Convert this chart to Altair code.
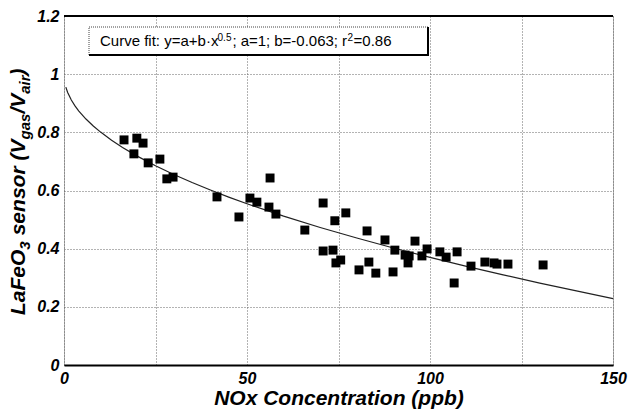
import altair as alt
import pandas as pd

# ---- data ----
nox = [16.4, 19.9, 21.6, 19.1, 23.0, 26.2, 28.1, 29.8, 56.3, 41.8, 47.8, 50.8, 52.7, 56.0,
       57.9, 65.8, 70.8, 77.0, 74.0, 82.8, 70.8, 73.5, 74.3, 75.6, 80.6, 83.3, 85.2, 87.7,
       89.9, 90.4, 95.9, 93.2, 94.3, 94.0, 97.8, 99.2, 102.7, 104.4, 107.4, 106.6, 111.2,
       115.0, 117.5, 118.3, 121.3, 130.9]
sensor = [0.774, 0.780, 0.763, 0.726, 0.695, 0.708, 0.640, 0.646, 0.643, 0.578, 0.509, 0.574,
          0.560, 0.543, 0.519, 0.464, 0.557, 0.523, 0.496, 0.461, 0.392, 0.395, 0.351, 0.361,
          0.327, 0.354, 0.316, 0.430, 0.320, 0.395, 0.426, 0.378, 0.375, 0.351, 0.375, 0.399,
          0.389, 0.371, 0.389, 0.282, 0.340, 0.354, 0.351, 0.347, 0.347, 0.344]
fit_a = 1.0
fit_b = -0.063
curve_x = [0.5, 1, 2, 3, 4, 6, 8, 10, 13, 16, 20, 25, 30, 35, 40, 45, 50, 60, 70, 80, 90,
           100, 110, 120, 130, 140, 150]
x_ticks = [0, 25, 50, 75, 100, 125, 150]
y_ticks = [0, 0.2, 0.4, 0.6, 0.8, 1, 1.2]

W, H = 549, 349
FONT = "Liberation Sans"

REG = {'C': .722, 'u': .556, 'r': .333, 'v': .5, 'e': .556, ' ': .278, 'f': .278,
       'i': .222, 't': .278, ':': .278, 'y': .5, '=': .584, 'a': .556, '+': .584, 'b': .556,
       '·': .278, 'x': .5, ';': .278, '-': .333, '.': .278}
BOLD = {'L': .611, 'a': .556, 'F': .611, 'e': .556, 'O': .778, 's': .556, 'n': .611, 'o': .611,
        'r': .389, ' ': .278, '(': .333, 'V': .667, 'g': .611, '/': .278, 'i': .278,
        ')': .333}


def tw(s, size, table):
    return sum(table.get(c, .556) for c in s) * size


one = pd.DataFrame({"k": [0]})

pts = pd.DataFrame({"x": nox, "y": sensor})
curve = pd.DataFrame({"x": curve_x})

xscale = alt.Scale(domain=[0, 150], nice=False, zero=False)
yscale = alt.Scale(domain=[0, 1.2], nice=False)

xaxis = alt.Axis(values=x_ticks, labelExpr="datum.value % 50 == 0 ? datum.label : ''",
                 format="d", title="NOx Concentration (ppb)", grid=True, ticks=False,
                 labelFont=FONT, labelFontSize=16, labelFontStyle="italic",
                 labelFontWeight="bold", labelColor="black", labelPadding=5,
                 titleFont=FONT, titleFontSize=21, titleFontStyle="italic",
                 titleFontWeight="bold", titleColor="black", titlePadding=1,
                 domainColor="black", domainWidth=2,
                 gridColor="#666", gridDash=[1, 2], gridWidth=1, labelFlush=False)
yaxis = alt.Axis(values=y_ticks, format="~g", title=None, grid=True, ticks=False,
                 labelFont=FONT, labelFontSize=16, labelFontStyle="italic",
                 labelFontWeight="bold", labelColor="black", labelPadding=5,
                 domain=False, gridColor="#666", gridDash=[1, 2], gridWidth=1)

xenc = alt.X("x:Q", scale=xscale, axis=xaxis)
yenc = alt.Y("y:Q", scale=yscale, axis=yaxis)

curve_layer = alt.Chart(curve).transform_calculate(
    y=f"{fit_a} + ({fit_b}) * sqrt(datum.x)"
).mark_line(color="#222", strokeWidth=1.2).encode(x=xenc, y=yenc)

point_layer = alt.Chart(pts).mark_square(size=80, color="black", opacity=1).encode(x=xenc, y=yenc)

top_rule = alt.Chart(one).mark_rule(color="black", strokeWidth=2).encode(
    x=alt.value(0), x2=alt.value(W), y=alt.value(0))

# annotation box
bx0, bx1, by0, by1 = 25, 364, 11, 39
box = alt.Chart(one).mark_rect(fill="white", stroke="#444", strokeWidth=1,
                               strokeDash=[1, 1]).encode(
    x=alt.value(bx0), x2=alt.value(bx1), y=alt.value(by0), y2=alt.value(by1))
box_r = alt.Chart(one).mark_rule(color="black", strokeWidth=2).encode(
    x=alt.value(bx1), y=alt.value(by0), y2=alt.value(by1 + 1))
box_b = alt.Chart(one).mark_rule(color="black", strokeWidth=2).encode(
    x=alt.value(bx0), x2=alt.value(bx1 + 1), y=alt.value(by1))

# (text, is_small, extra gap before the piece)
ann_pieces = [("Curve fit: y=a+b·x", False, 0), ("0.5", True, 0), (";", False, 1),
              ("a=1;", False, 4), ("b=-0.063;", False, 4), ("r", False, 4),
              ("2", True, 0.5), ("=0.86", False, 0.5)]
ann_layers = []
cx = 36
for txt, sup, gap in ann_pieces:
    size = 10 if sup else 15
    cx += gap
    ann_layers.append(
        alt.Chart(one).mark_text(text=txt, font=FONT, fontSize=size, align="left",
                                 baseline="alphabetic", color="black").encode(
            x=alt.value(cx), y=alt.value(25 if sup else 30)))
    cx += tw(txt, size, REG)

# rotated y title with subscripts
ytitle_pieces = [("LaFeO", False, 0), ("3", True, 0), ("sensor", False, 6),
                 ("(V", False, 6), ("gas", True, 0), ("/V", False, 0), ("air", True, 0),
                 (")", False, 0)]
ty_layers = []
cy = 299
for txt, sub, gap in ytitle_pieces:
    size = 15 if sub else 21
    cy -= gap
    ty_layers.append(
        alt.Chart(one).mark_text(text=txt, font=FONT, fontSize=size, fontStyle="italic",
                                 fontWeight="bold", angle=270, align="left",
                                 baseline="alphabetic", color="black").encode(
            x=alt.value(-39 + (5 if sub else 0)), y=alt.value(cy)))
    cy -= tw(txt, size, BOLD)

chart = alt.layer(curve_layer, point_layer, top_rule, box, box_r, box_b,
                  *ann_layers, *ty_layers).properties(
    width=W, height=H, autosize="none",
    padding={"left": 64, "top": 16, "right": 17, "bottom": 46},
    background="white"
).configure_view(stroke="#666", strokeDash=[1, 1], strokeWidth=1)

chart.save("out.html", embed_options={"renderer": "svg", "actions": False})
